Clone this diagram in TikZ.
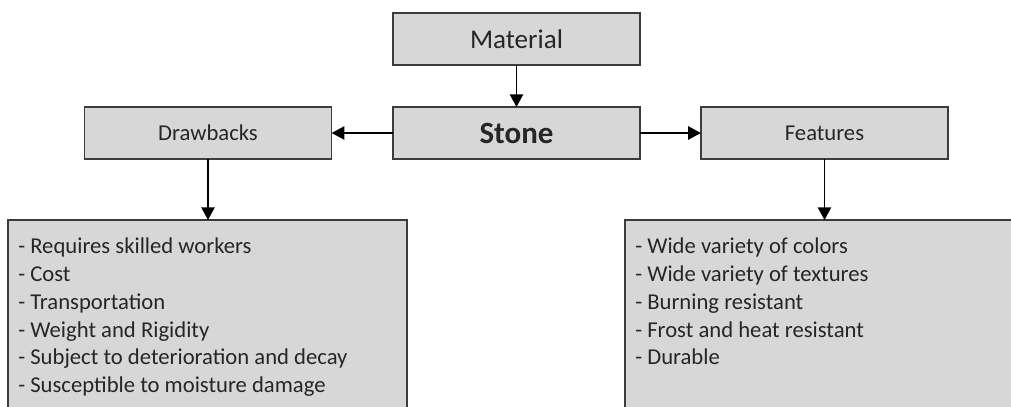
\documentclass[tikz,border=0pt]{standalone}
\usepackage{fontspec}
\setmainfont{Carlito}
\usetikzlibrary{arrows.meta}
\definecolor{boxfill}{HTML}{D7D7D7}
\definecolor{boxline}{HTML}{3C3C3C}
\definecolor{txt}{HTML}{262626}
\begin{document}
\begin{tikzpicture}[x=0.75pt,y=-0.75pt,
  box/.style={draw=boxline, fill=boxfill, line width=1.1pt, rectangle, inner sep=0pt, outer sep=0pt, text=txt},
  smallbox/.style={box, minimum width=185.5pt, minimum height=39pt, font=\fontsize{17}{20}\selectfont},
  bigbox/.style={box, anchor=north west},
  listtext/.style={anchor=base west, align=left, inner sep=0pt, text=txt, font=\fontsize{17}{20.8}\selectfont},
  arr/.style={draw=black, line width=1.1pt, -{Triangle[width=10pt,length=9.5pt]}}
]
\clip (0,0) rectangle (1011,407);
\fill[white] (0,0) rectangle (1011,407);
\node[smallbox, font=\fontsize{20.3}{24}\selectfont] (material) at (516.5,39) {Material};
\node[smallbox, font=\fontsize{23.2}{27}\selectfont\bfseries] (stone) at (516.5,133) {Stone};
\node[smallbox] (drawbacks) at (208,133) {Drawbacks};
\node[smallbox] (features) at (824.5,133) {Features};
\node[bigbox, minimum width=299.25pt, minimum height=180pt] (leftbox) at (8,220) {};
\node[bigbox, minimum width=310pt, minimum height=180pt] (rightbox) at (625,220) {};
\node[listtext] (lefttext) at (18,392.6) {- Requires skilled workers\\- Cost\\- Transportation\\- Weight and Rigidity\\- Subject to deterioration and decay\\- Susceptible to moisture damage};
\node[listtext] (righttext) at (635,364.9) {- Wide variety of colors\\- Wide variety of textures\\- Burning resistant\\- Frost and heat resistant\\- Durable};
\draw[arr] (material.south) -- (stone.north);
\draw[arr] (stone.west) -- (drawbacks.east);
\draw[arr] (stone.east) -- (features.west);
\draw[arr] (drawbacks.south) -- (drawbacks.south |- leftbox.north);
\draw[arr] (features.south) -- (features.south |- rightbox.north);
\end{tikzpicture}
\end{document}
